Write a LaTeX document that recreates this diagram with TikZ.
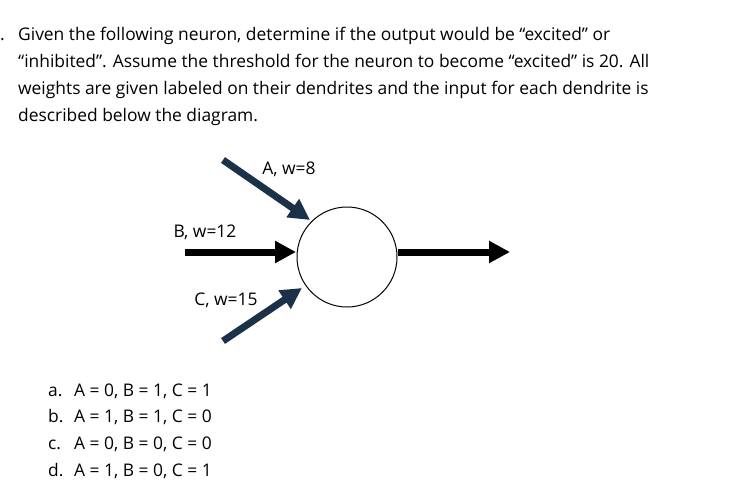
\documentclass[tikz,border=0pt]{standalone}
\usepackage{fontspec}
\setmainfont{Open Sans}
\usetikzlibrary{arrows.meta}
\definecolor{navy}{HTML}{1B3148}
\begin{document}
\begin{tikzpicture}[x=1pt,y=-1pt,
  txt/.style={anchor=base west,inner sep=0pt,font=\fontsize{17.4}{20}\selectfont},
  arr/.style={line width=7pt,-{Triangle[length=21pt,width=21pt]}}]
\useasboundingbox[fill=white] (0,0) rectangle (753,498);
\node[txt] (d) at (0,40) {.};
\node[txt] (l1) at (18,40) {Given the following neuron, determine if the output would be “excited” or};
\node[txt] (l2) at (18,67) {“inhibited”. Assume the threshold for the neuron to become “excited” is 20. All};
\node[txt] (l3) at (18,94) {weights are given labeled on their dendrites and the input for each dendrite is};
\node[txt] (l4) at (18,121) {described below the diagram.};
\node[draw,circle,line width=1pt,minimum size=100pt,inner sep=0pt] (n) at (347,257) {};
\coordinate (a0) at (223,160); \coordinate (a1) at (310,220);
\coordinate (b0) at (185,252); \coordinate (b1) at (296,252);
\coordinate (c0) at (223,341); \coordinate (c1) at (302,288);
\coordinate (o1) at (510,252);
\draw[arr,navy] (a0) -- (a1);
\draw[arr,black] (b0) -- (b1);
\draw[arr,navy] (c0) -- (c1);
\draw[arr,black] (n.east|-o1) -- (o1);
\node[txt,anchor=base] (la) at (289,174) {A, w=8};
\node[txt,anchor=base] (lb) at (205,237) {B, w=12};
\node[txt,anchor=base] (lc) at (226,305) {C, w=15};
\node[txt] (ia) at (48,396) {a.}; \node[txt] (ta) at (74,396) {A = 0, B = 1, C = 1};
\node[txt] (ib) at (48,422) {b.}; \node[txt] (tb) at (74,422) {A = 1, B = 1, C = 0};
\node[txt] (ic) at (48,449) {c.}; \node[txt] (tc) at (74,449) {A = 0, B = 0, C = 0};
\node[txt] (id) at (48,476) {d.}; \node[txt] (td) at (74,476) {A = 1, B = 0, C = 1};
\end{tikzpicture}
\end{document}
